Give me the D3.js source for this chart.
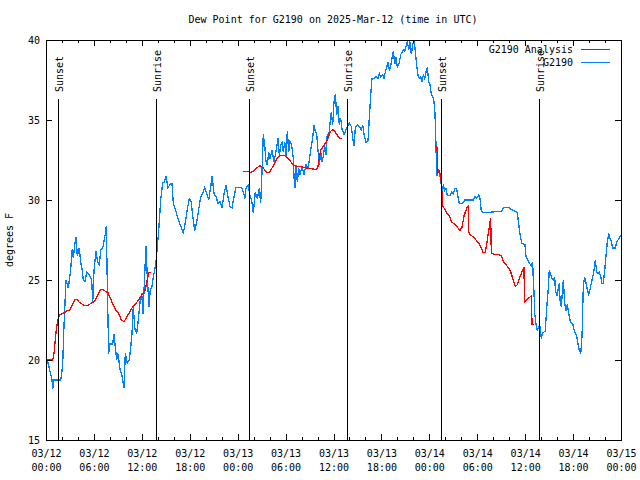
<!DOCTYPE html>
<html>
<head>
<meta charset="utf-8">
<script src="https://cdn.jsdelivr.net/npm/d3@7"></script>
<style>
  html, body { margin: 0; padding: 0; background: #fff; }
  svg { display: block; }
  text { font-family: "DejaVu Sans Mono", "Liberation Mono", monospace; font-size: 10px; fill: #000; }
</style>
</head>
<body>
<svg id="chart" width="640" height="480"></svg>
<script>
// ---------------- data ----------------
const titleText = "Dew Point for G2190 on 2025-Mar-12 (time in UTC)";
const yLabel = "degrees F";
const startDate = "2025-03-12T00:00:00Z";
const spanHours = 72;
const yTicks = [15, 20, 25, 30, 35, 40];
const seriesNames = ["G2190 Analysis", "G2190"];

// G2190 observations: hours since 03/12 00:00 UTC, dew point (F)
const obsHours = [0.16,0.50,0.75,0.84,1.00,1.38,1.84,1.97,2.09,2.25,2.50,2.79,3.09,3.26,3.42,3.63,3.76,3.92,4.17,4.35,4.55,4.67,4.88,5.10,5.42,5.72,5.85,6.01,6.26,6.42,6.67,6.85,7.10,7.26,7.43,7.55,7.73,7.85,8.01,8.35,8.51,8.68,8.85,9.02,9.27,9.52,9.77,9.93,10.18,10.43,10.61,10.77,10.93,11.14,11.36,11.56,11.77,11.98,12.15,12.31,12.52,12.68,12.90,13.06,13.27,13.44,13.61,13.77,13.94,14.11,14.36,14.61,14.78,15.03,15.28,15.53,15.78,15.94,16.19,16.44,16.69,16.94,17.19,17.44,17.69,17.94,18.19,18.37,18.62,18.87,19.12,19.37,19.62,19.87,20.12,20.37,20.62,20.79,21.04,21.29,21.54,21.79,22.04,22.29,22.54,22.79,23.04,23.29,23.54,23.79,24.29,24.54,24.71,24.92,25.04,25.33,25.54,25.75,25.96,26.21,26.46,26.71,26.88,27.05,27.21,27.39,27.55,27.71,27.89,28.05,28.30,28.55,28.71,28.89,29.05,29.22,29.39,29.55,29.72,29.89,30.05,30.22,30.39,30.55,30.77,30.97,31.06,31.18,31.30,31.47,31.64,31.81,32.06,32.31,32.56,32.81,33.06,33.22,33.40,33.56,33.72,33.90,34.06,34.22,34.40,34.56,34.72,34.90,35.06,35.22,35.40,35.56,35.73,35.90,36.06,36.23,36.40,36.56,36.73,36.90,37.07,37.32,37.57,37.98,38.23,38.40,38.57,38.73,38.98,39.23,39.48,39.66,39.82,40.07,40.32,40.48,40.66,40.82,41.07,41.32,41.57,41.74,41.91,42.16,42.32,42.49,42.66,42.83,42.99,43.16,43.33,43.49,43.67,43.83,43.99,44.24,44.42,44.58,44.74,44.92,45.08,45.24,45.42,45.58,45.74,45.92,46.08,46.24,46.42,46.58,46.74,46.92,47.08,47.24,47.42,47.58,47.75,47.92,48.08,48.25,48.50,48.67,48.75,48.84,48.92,49.09,49.25,49.42,49.59,49.75,49.93,50.09,50.25,50.59,50.80,51.00,51.18,51.43,51.59,51.75,52.18,52.43,53.51,53.72,53.93,54.18,54.35,54.51,54.76,57.06,57.26,57.51,58.01,58.31,58.73,59.02,59.19,59.35,59.56,59.98,60.10,60.35,60.60,60.77,60.94,61.02,61.11,61.19,61.35,61.52,61.69,61.86,62.02,62.19,62.52,62.70,62.86,63.02,63.20,63.36,63.53,63.70,63.78,63.96,64.12,64.28,64.37,64.53,64.70,64.78,64.96,65.11,65.28,65.46,65.61,65.78,65.95,66.12,66.28,66.45,66.61,66.78,66.96,67.12,67.21,67.28,67.45,67.62,67.78,67.96,68.12,68.28,68.46,68.62,68.78,68.96,69.12,69.28,69.46,69.62,69.79,69.96,70.12,70.29,70.46,70.62,70.79,70.96,71.29,71.46,71.71,71.96];
const obsDew = [20.0,19.3,18.75,18.2,18.75,18.75,18.75,19.2,19.7,22.1,25.0,24.5,25.6,26.9,26.4,27.3,27.7,26.5,27.0,26.1,25.6,25.0,24.9,25.5,25.3,25.0,23.6,25.6,26.8,26.25,25.9,26.9,27.0,27.4,27.9,28.4,23.3,20.4,21.0,21.0,21.6,20.8,20.0,20.4,19.4,19.0,18.25,20.4,19.8,20.0,20.8,21.7,23.3,21.9,21.7,22.5,23.6,24.2,22.9,24.8,27.1,25.2,23.3,24.4,24.6,25.2,25.6,26.1,27.1,28.1,30.0,31.1,31.1,31.5,30.75,31.0,31.0,29.8,29.4,29.0,28.6,28.3,27.9,28.6,29.4,30.1,29.9,29.0,28.1,28.6,29.4,30.2,30.4,30.8,30.4,30.0,30.8,31.5,30.4,30.2,29.8,29.9,29.5,30.4,30.9,30.2,29.6,29.5,30.2,30.8,30.8,30.75,30.5,30.1,30.75,30.9,30.3,30.0,29.2,30.5,30.1,30.75,29.8,31.8,34.1,33.4,32.4,32.2,33.0,32.6,33.1,32.4,32.8,33.3,33.9,32.8,33.4,33.6,33.0,33.65,32.7,34.3,33.0,33.65,33.4,32.6,31.4,30.75,32.2,31.1,32.0,31.6,32.1,31.6,32.2,32.0,32.8,33.4,33.9,34.7,34.3,34.1,33.1,32.2,33.0,32.4,32.7,33.4,32.8,34.1,33.9,34.8,35.5,34.7,36.1,36.6,35.3,35.9,34.7,35.1,34.4,34.1,34.4,34.8,34.6,33.9,33.4,34.5,34.7,34.6,34.4,34.7,34.1,33.6,33.7,35.1,36.6,37.6,37.6,37.7,37.6,37.9,37.7,37.85,37.6,38.0,38.3,38.6,38.1,38.4,38.9,39.3,38.5,38.9,38.3,38.6,39.1,39.2,39.4,39.3,39.6,39.9,39.4,39.9,39.1,39.7,40.0,39.3,38.4,37.8,37.6,37.7,37.4,37.8,37.6,38.0,38.3,37.4,37.2,36.6,36.4,35.8,34.8,33.3,31.5,31.7,31.8,31.25,30.6,30.9,30.6,30.7,30.3,30.3,30.5,30.4,30.7,30.7,30.2,29.8,29.8,30.0,30.0,30.2,30.1,30.3,30.1,29.3,29.2,29.3,29.5,29.55,29.5,29.4,29.3,29.2,28.5,27.9,27.3,27.2,26.5,26.25,26.0,25.9,26.1,25.0,24.2,22.9,22.3,21.8,22.1,22.1,21.35,21.7,21.8,23.3,24.2,25.6,25.3,25.1,25.0,25.2,24.4,24.0,24.4,24.8,23.75,23.3,24.6,25.0,23.5,23.1,23.5,22.9,22.5,22.3,22.3,21.9,21.7,21.5,21.0,20.6,20.4,21.5,23.3,24.6,25.2,24.8,24.4,24.1,24.4,24.8,25.2,25.6,26.25,25.5,25.4,25.5,25.2,24.8,24.8,25.6,26.5,27.4,27.9,27.6,27.4,27.0,27.0,27.4,27.55,27.8];

// G2190 Analysis (null = gap in the analysis)
const anaHours = [0.16,0.84,1.00,1.16,1.34,1.50,1.67,2.00,2.34,2.59,2.92,3.26,3.59,3.84,4.17,4.51,4.85,5.17,5.51,5.85,6.17,6.51,6.85,7.10,7.43,7.76,8.10,8.43,8.77,9.10,9.43,9.77,10.02,10.36,10.68,11.02,11.36,11.68,12.02,12.36,12.52,12.68,12.85,13.10,
  18.0,
  24.71,25.33,25.54,25.96,26.38,26.80,27.21,27.64,27.96,28.30,28.64,28.96,29.30,29.96,30.30,30.64,30.97,31.39,31.81,32.64,33.90,34.06,34.22,34.40,34.65,34.90,35.15,35.40,35.65,35.90,36.15,36.40,36.65,37.02,
  43.0,
  48.75,48.96,49.09,49.25,49.42,49.59,49.67,49.84,50.17,50.50,50.84,51.18,51.51,51.84,52.09,52.34,52.68,52.88,52.93,53.18,53.51,53.84,54.18,54.51,54.76,55.01,55.26,55.51,55.68,55.76,56.10,56.64,57.01,57.35,57.68,58.01,58.26,58.51,58.76,59.02,59.35,59.69,59.85,59.92,60.19,60.52,60.77,60.86,61.11];
const anaDew = [20.0,20.0,20.4,21.25,22.1,22.5,22.8,22.9,22.95,23.1,23.1,23.4,23.75,23.8,23.6,23.5,23.4,23.4,23.5,23.6,23.75,24.1,24.4,24.4,24.3,24.2,23.8,23.4,23.1,22.9,22.5,22.4,22.6,22.9,23.2,23.4,23.6,23.8,24.1,24.3,24.6,25.0,25.45,25.45,
  null,
  31.8,31.8,31.7,31.8,32.0,32.15,32.0,31.7,31.7,32.0,32.3,32.6,32.8,32.8,32.6,32.4,32.2,32.1,32.1,32.0,31.9,32.1,32.6,33.1,33.3,33.5,33.65,34.1,34.3,34.4,34.3,34.1,33.9,33.8,
  null,
  33.4,33.3,31.7,31.8,31.5,30.4,29.6,29.5,29.2,29.0,28.6,28.5,28.3,28.1,28.3,29.0,29.5,29.6,28.0,27.8,27.7,27.5,27.3,27.0,26.7,26.7,27.5,28.3,28.9,26.7,26.6,26.6,26.5,26.1,25.9,25.7,25.4,25.0,24.6,24.7,25.2,25.6,25.8,23.6,23.75,23.9,24.0,22.2,22.2];

// Sun events (hours since start)
const sunHours = [1.46, 13.82, 25.46, 37.73, 49.46, 61.77];
const sunLabels = ["Sunset", "Sunrise", "Sunset", "Sunrise", "Sunset", "Sunrise"];

// ---------------- drawing ----------------
const HOUR = 3600 * 1000;
const t0 = new Date(startDate);
const toDate = h => new Date(t0.getTime() + h * HOUR);

const plot = { left: 46, right: 621, top: 40, bottom: 440 };
const svg = d3.select("#chart");

const x = d3.scaleUtc().domain([t0, toDate(spanHours)]).range([plot.left, plot.right]);
const y = d3.scaleLinear().domain([15, 40]).range([plot.bottom, plot.top]);

const majorTicks = d3.range(0, spanHours + 1, 6).map(toDate);
const minorTicks = d3.range(0, spanHours + 1, 2).filter(h => h % 6 !== 0).map(toDate);
const fmtDate = d3.utcFormat("%m/%d");
const fmtTime = d3.utcFormat("%H:%M");

const colors = { analysis: "#ff0000", obs: "#0080ff" };

// data lines (clipped)
svg.append("clipPath").attr("id", "clip").append("rect")
  .attr("x", plot.left).attr("y", plot.top - 1)
  .attr("width", plot.right - plot.left).attr("height", plot.bottom - plot.top + 2);

const obsData = obsHours.map((h, i) => ({ t: toDate(h), v: obsDew[i] }));
const anaData = anaHours.map((h, i) => ({ t: toDate(h), v: anaDew[i] }));

const line = d3.line()
  .defined(d => d.v !== null)
  .x(d => x(d.t)).y(d => y(d.v));

const g = svg.append("g").attr("clip-path", "url(#clip)");
g.append("path").datum(obsData)
  .attr("d", line).attr("fill", "none").attr("stroke", colors.obs).attr("stroke-width", 1.3)
  .attr("shape-rendering", "crispEdges");
g.append("path").datum(anaData)
  .attr("d", line).attr("fill", "none").attr("stroke", colors.analysis).attr("stroke-width", 1.3)
  .attr("shape-rendering", "crispEdges");

// sun lines
const sun = svg.append("g");
sunHours.forEach((h, i) => {
  const sx = Math.round(x(toDate(h))) + 0.5;
  sun.append("line")
    .attr("x1", sx).attr("x2", sx).attr("y1", 99).attr("y2", plot.bottom)
    .attr("stroke", "#000").attr("stroke-width", 1).attr("shape-rendering", "crispEdges");
  sun.append("text")
    .attr("transform", `translate(${sx + 4},92) rotate(-90)`)
    .attr("text-anchor", "start")
    .text(sunLabels[i]);
});

// axes
function styleAxis(sel) {
  sel.select(".domain").remove();
  sel.selectAll(".tick line").attr("stroke", "#000").attr("shape-rendering", "crispEdges");
  sel.selectAll("text").attr("font-family", null).attr("font-size", null);
}

svg.append("g").attr("transform", `translate(0,${plot.bottom})`)
  .call(d3.axisBottom(x).tickValues(majorTicks).tickSizeInner(-6).tickSizeOuter(0).tickPadding(9).tickFormat(""))
  .call(styleAxis)
  .call(a => a.selectAll(".tick text").each(function(d) {
    const t = d3.select(this).attr("dy", null).attr("y", 0);
    t.append("tspan").attr("x", 0).attr("y", 17).text(fmtDate(d));
    t.append("tspan").attr("x", 0).attr("y", 31).text(fmtTime(d));
  }));
svg.append("g").attr("transform", `translate(0,${plot.bottom})`)
  .call(d3.axisBottom(x).tickValues(minorTicks).tickSizeInner(-3).tickSizeOuter(0).tickFormat(""))
  .call(styleAxis);
svg.append("g").attr("transform", `translate(0,${plot.top})`)
  .call(d3.axisTop(x).tickValues(majorTicks).tickSizeInner(-6).tickSizeOuter(0).tickFormat(""))
  .call(styleAxis);
svg.append("g").attr("transform", `translate(0,${plot.top})`)
  .call(d3.axisTop(x).tickValues(minorTicks).tickSizeInner(-3).tickSizeOuter(0).tickFormat(""))
  .call(styleAxis);

svg.append("g").attr("transform", `translate(${plot.left},0)`)
  .call(d3.axisLeft(y).tickValues(yTicks).tickSizeInner(-6).tickSizeOuter(0).tickPadding(6).tickFormat(d3.format("d")))
  .call(styleAxis);
svg.append("g").attr("transform", `translate(${plot.right},0)`)
  .call(d3.axisRight(y).tickValues(yTicks).tickSizeInner(-6).tickSizeOuter(0).tickFormat(""))
  .call(styleAxis);

// border
svg.append("rect")
  .attr("x", plot.left + 0.5).attr("y", plot.top + 0.5)
  .attr("width", plot.right - plot.left).attr("height", plot.bottom - plot.top)
  .attr("fill", "none").attr("stroke", "#000").attr("stroke-width", 1)
  .attr("shape-rendering", "crispEdges");

// title & y label
svg.append("text").attr("x", 333).attr("y", 23).attr("text-anchor", "middle").text(titleText);
svg.append("text").attr("transform", "translate(13,240) rotate(-90)").attr("text-anchor", "middle").text(yLabel);

// legend
const legend = svg.append("g");
[[seriesNames[0], colors.analysis, 49.5], [seriesNames[1], colors.obs, 62.5]].forEach(([name, c, ly]) => {
  legend.append("text").attr("x", 573).attr("y", ly).attr("dy", "0.35em").attr("text-anchor", "end").text(name);
  legend.append("line").attr("x1", 581).attr("x2", 610).attr("y1", ly).attr("y2", ly)
    .attr("stroke", c).attr("stroke-width", 1.3).attr("shape-rendering", "crispEdges");
});
</script>
</body>
</html>
